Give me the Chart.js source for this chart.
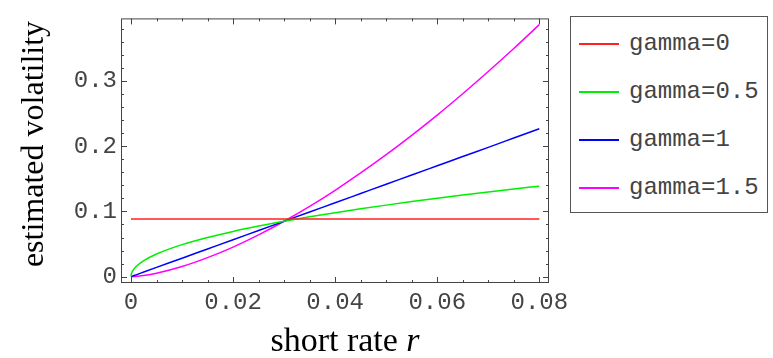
<!DOCTYPE html>
<html>
<head>
<meta charset="utf-8">
<script src="https://cdn.jsdelivr.net/npm/chart.js@4.4.1/dist/chart.umd.min.js"></script>
<style>
  html, body { margin: 0; padding: 0; background: #fff; }
  #wrap { position: relative; width: 773px; height: 358px; }
  #legend {
    position: absolute; left: 570px; top: 16px; width: 198px; height: 197px;
    border: 1px solid #555; box-sizing: border-box; background: #fff;
    font-family: "Liberation Mono", monospace; font-size: 24px; color: #444;
  }
  .item { position: absolute; left: 0; height: 24px; line-height: 24px; }
  .swatch { position: absolute; left: 8px; top: 11px; width: 40px; height: 1.5px; }
  .label { position: absolute; left: 58px; top: 0; white-space: nowrap; }
</style>
</head>
<body>
<div id="wrap">
  <canvas id="chart" width="773" height="358"></canvas>
  <div id="legend"></div>
</div>
<script>
// Data
const shortRate = [0, 0.0001, 0.0003, 0.0006, 0.001, 0.0025, 0.005, 0.01, 0.015, 0.02, 0.025, 0.03, 0.035,
                   0.04, 0.045, 0.05, 0.055, 0.06, 0.065, 0.07, 0.075, 0.08];
const gamma0   = [0.0883, 0.0883, 0.0883, 0.0883, 0.0883, 0.0883, 0.0883, 0.0883, 0.0883, 0.0883, 0.0883, 0.0883, 0.0883,
                  0.0883, 0.0883, 0.0883, 0.0883, 0.0883, 0.0883, 0.0883, 0.0883, 0.0883];
const gamma05  = [0, 0.0049, 0.0085, 0.012, 0.0155, 0.0245, 0.0347, 0.0491, 0.0601, 0.0694, 0.0776, 0.085, 0.0918,
                  0.0981, 0.1041, 0.1097, 0.1151, 0.1202, 0.1251, 0.1298, 0.1344, 0.1388];
const gamma1   = [0, 0.0003, 0.0009, 0.0017, 0.0028, 0.0071, 0.0142, 0.0283, 0.0425, 0.0567, 0.0708, 0.085, 0.0992,
                  0.1133, 0.1275, 0.1417, 0.1558, 0.17, 0.1842, 0.1983, 0.2125, 0.2267];
const gamma15  = [0, 0, 0.0001, 0.0002, 0.0005, 0.0018, 0.0053, 0.0156, 0.0292, 0.0454, 0.0641, 0.085, 0.1078,
                  0.1325, 0.159, 0.187, 0.2167, 0.2478, 0.2805, 0.3145, 0.3498, 0.3865];

const seriesNames = ['gamma=0', 'gamma=0.5', 'gamma=1', 'gamma=1.5'];
const seriesColors = ['#ff2020', '#00ee00', '#0000ff', '#ff00ff'];
const xTicks = [0, 0.02, 0.04, 0.06, 0.08];
const yTicks = [0, 0.1, 0.2, 0.3];

const FRAME = '#444';

function toPoints(values) {
    return shortRate.map((r, i) => ({ x: r, y: values[i] }));
}

const datasets = [gamma0, gamma05, gamma1, gamma15].map((vals, i) => ({
    label: seriesNames[i],
    data: toPoints(vals),
    borderColor: seriesColors[i],
    borderWidth: 1.5,
    pointRadius: 0,
    fill: false,
    cubicInterpolationMode: 'monotone'
}));

// Frame with inward ticks on all four sides, plus axis titles
const framePlugin = {
    id: 'frame',
    afterDraw(chart) {
        const { ctx, chartArea: a, scales } = chart;
        const xs = scales.x, ys = scales.y;
        ctx.save();
        ctx.strokeStyle = FRAME;
        ctx.lineWidth = 1;
        ctx.strokeRect(a.left + 0.5, a.top + 0.5, a.right - a.left - 1, a.bottom - a.top - 1);

        ctx.beginPath();
        for (let k = 0; k <= 16; k++) {
            const v = k * 0.005;
            const len = (k % 4 === 0) ? 6 : 3;
            const px = Math.round(xs.getPixelForValue(v)) + 0.5;
            ctx.moveTo(px, a.bottom); ctx.lineTo(px, a.bottom - len);
            ctx.moveTo(px, a.top); ctx.lineTo(px, a.top + len);
        }
        for (let k = 0; k <= 19; k++) {
            const v = k * 0.02;
            const len = (k % 5 === 0) ? 6 : 3;
            const py = Math.round(ys.getPixelForValue(v)) + 0.5;
            ctx.moveTo(a.left, py); ctx.lineTo(a.left + len, py);
            ctx.moveTo(a.right, py); ctx.lineTo(a.right - len, py);
        }
        ctx.stroke();

        // axis titles
        ctx.fillStyle = '#000';
        ctx.textBaseline = 'alphabetic';
        const upright = '34px "Liberation Serif", serif';
        const italic = 'italic 34px "Liberation Serif", serif';
        ctx.font = upright;
        const w1 = ctx.measureText('short rate ').width;
        ctx.font = italic;
        const w2 = ctx.measureText('r').width;
        const x0 = 345 - (w1 + w2) / 2;
        ctx.font = upright;
        ctx.fillText('short rate ', x0, 351);
        ctx.font = italic;
        ctx.fillText('r', x0 + w1, 351);

        ctx.translate(43, 144);
        ctx.rotate(-Math.PI / 2);
        ctx.font = '32px "Liberation Serif", serif';
        ctx.textAlign = 'center';
        ctx.fillText('estimated volatility', 0, 0);
        ctx.restore();
    }
};

function initChart() {
    const ctx = document.getElementById('chart').getContext('2d');
    new Chart(ctx, {
        type: 'line',
        data: { datasets },
        options: {
            responsive: false,
            animation: false,
            layout: { padding: { left: 0, top: 18, right: 224, bottom: 0 } },
            plugins: { legend: { display: false }, tooltip: { enabled: false } },
            scales: {
                x: {
                    type: 'linear',
                    min: -0.00196,
                    max: 0.0819,
                    grid: { display: false, drawTicks: false },
                    border: { display: false },
                    afterBuildTicks: s => { s.ticks = xTicks.map(v => ({ value: v })); },
                    afterFit: s => { s.height = 75; },
                    ticks: {
                        padding: 5,
                        color: '#444',
                        font: { family: '"Liberation Mono", monospace', size: 24 },
                        maxRotation: 0,
                        callback: v => String(v)
                    }
                },
                y: {
                    type: 'linear',
                    min: -0.0097,
                    max: 0.396,
                    grid: { display: false, drawTicks: false },
                    border: { display: false },
                    afterBuildTicks: s => { s.ticks = yTicks.map(v => ({ value: v })); },
                    afterFit: s => { s.width = 121; },
                    ticks: {
                        padding: 4,
                        color: '#444',
                        font: { family: '"Liberation Mono", monospace', size: 24 },
                        callback: v => String(v)
                    }
                }
            }
        },
        plugins: [framePlugin]
    });

    // HTML legend
    const legend = document.getElementById('legend');
    seriesNames.forEach((name, i) => {
        const item = document.createElement('div');
        item.className = 'item';
        item.style.top = (15 + i * 48) + 'px';
        item.innerHTML = '<span class="swatch" style="background:' + seriesColors[i] +
            '"></span><span class="label">' + name + '</span>';
        legend.appendChild(item);
    });
}

document.addEventListener('DOMContentLoaded', initChart);
</script>
</body>
</html>
